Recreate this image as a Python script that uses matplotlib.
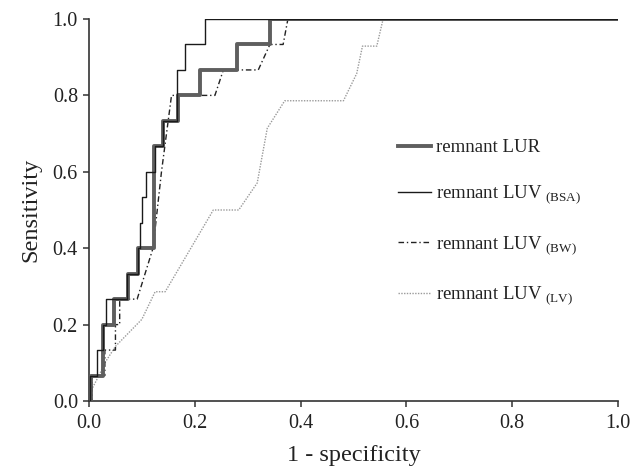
import matplotlib
matplotlib.use("Agg")
import matplotlib.pyplot as plt
import numpy as np

plt.rcParams['font.family'] = ['Liberation Serif', 'DejaVu Serif']
plt.rcParams['mathtext.fontset'] = 'custom'
plt.rcParams['mathtext.rm'] = 'Liberation Serif'

N_POS = 15  # positives for LUR / BSA / BW curves

# remnant LUR (step ROC): fpr where tpr jumps, tpr count after jump
lur_fpr = [0.0, 0.004, 0.027, 0.048, 0.074, 0.093, 0.122, 0.140, 0.169, 0.210, 0.279, 0.342, 1.0]
lur_k   = [0,   1,     3,     4,     5,     6,     10,    11,    12,    13,    14,    15,    15]

# remnant LUV (BSA) (step ROC)
bsa_fpr = [0.0, 0.002, 0.015, 0.027, 0.032, 0.071, 0.093, 0.097, 0.100, 0.108, 0.124, 0.140, 0.166, 0.181, 0.219, 1.0]
bsa_k   = [0,   1,     2,     3,     4,     5,     6,     7,     8,     9,     10,    11,    13,    14,    15,    15]

# remnant LUV (BW) (polyline ROC)
bw_fpr = [0.0, 0.006, 0.006, 0.030, 0.030, 0.050, 0.050, 0.058, 0.058, 0.091, 0.121, 0.137, 0.156, 0.238, 0.254, 0.320, 0.342, 0.367, 0.376, 1.0]
bw_k   = [0,   0,     1,     1,     2,     2,     3,     3,     4,     4,     6,     9,     12,    12,    13,    13,    14,    14,    15,    15]

# remnant LUV (LV) (polyline ROC)
lv_fpr = [0.0, 0.005, 0.020, 0.030, 0.050, 0.100, 0.125, 0.144, 0.235, 0.283, 0.318, 0.337, 0.370, 0.481, 0.506, 0.517, 0.544, 0.556, 1.0]
lv_tpr = [0.0, 0.030, 0.070, 0.100, 0.143, 0.214, 0.286, 0.286, 0.500, 0.500, 0.571, 0.714, 0.786, 0.786, 0.857, 0.929, 0.929, 1.000, 1.0]

labels = ['remnant LUR',
          r'remnant LUV $_{\mathregular{(BSA)}}$',
          r'remnant LUV $_{\mathregular{(BW)}}$',
          r'remnant LUV $_{\mathregular{(LV)}}$']

xticks = [0.0, 0.2, 0.4, 0.6, 0.8, 1.0]
yticks = [0.0, 0.2, 0.4, 0.6, 0.8, 1.0]

fig = plt.figure(figsize=(6.3, 4.72), dpi=100)
ax = fig.add_axes([89/630, 1-401/472, (618-89)/630, (401-19)/472])

ax.plot(lv_fpr, lv_tpr, color='#9a9a9a', lw=1.0, ls=(0, (1, 1)), label=labels[3], zorder=2)
ax.plot(bw_fpr, np.array(bw_k)/N_POS, color='#222222', lw=1.0, ls=(0, (4, 2, 1, 2)), label=labels[2], zorder=3)
ax.plot(lur_fpr, np.array(lur_k)/N_POS, color='#5f5f5f', lw=2.8, drawstyle='steps-post', label=labels[0], zorder=4)
ax.plot(bsa_fpr, np.array(bsa_k)/N_POS, color='#1a1a1a', lw=1.0, drawstyle='steps-post', label=labels[1], zorder=5)

ax.set_xlim(0, 1)
ax.set_ylim(0, 1)
ax.set_xticks(xticks)
ax.set_yticks(yticks)
ax.set_xticklabels([f'{v:.1f}' for v in xticks])
ax.set_yticklabels([f'{v:.1f}' for v in yticks])
for s in ['top', 'right']:
    ax.spines[s].set_visible(False)
for s in ['left', 'bottom']:
    ax.spines[s].set_linewidth(1.2)
    ax.spines[s].set_color('#333333')
ax.tick_params(axis='both', direction='out', length=4, width=1.1, colors='#333333', labelcolor='#222222', labelsize=14.5)
ax.tick_params(axis='x', pad=5)
ax.tick_params(axis='y', pad=4)

ax.set_xlabel('1 - specificity', fontsize=17.5, color='#222222', labelpad=9)
ax.set_ylabel('Sensitivity', fontsize=17.5, color='#222222', labelpad=8)

handles, labs = ax.get_legend_handles_labels()
order = [labs.index(l) for l in labels]
leg = ax.legend([handles[i] for i in order], [labs[i] for i in order],
                loc='upper left', bbox_to_anchor=(398/630, 1-139/472), bbox_transform=fig.transFigure,
                frameon=False, fontsize=13.5, handlelength=1.75, handletextpad=0.3,
                labelspacing=1.5, borderpad=0, borderaxespad=0)
for t in leg.get_texts():
    t.set_color('#222222')

fig.savefig('out.png', dpi=100)
